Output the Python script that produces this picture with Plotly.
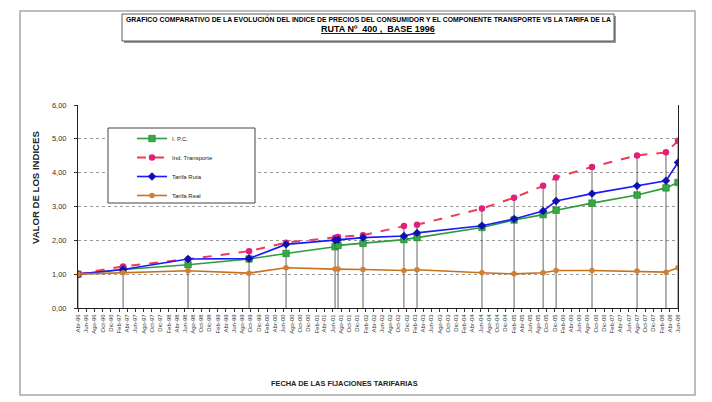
import plotly.graph_objects as go

# ---------------- data ----------------
FECHAS = ["1996-04-01", "1997-03-01", "1998-06-25", "1999-09-20", "2000-06-20",
          "2001-06-18", "2001-07-10", "2002-01-11", "2002-11-10", "2003-02-15",
          "2004-06-10", "2005-02-03", "2005-09-06", "2005-12-11", "2006-09-03",
          "2007-08-03", "2008-03-04", "2008-06-01"]
IPC = [1.00, 1.14, 1.28, 1.45, 1.61, 1.81, 1.85, 1.91, 2.02, 2.08,
       2.38, 2.60, 2.76, 2.89, 3.10, 3.34, 3.55, 3.71]
TRANSPORTE = [1.00, 1.23, 1.44, 1.68, 1.93, 2.08, 2.10, 2.15, 2.42, 2.46,
              2.94, 3.26, 3.61, 3.86, 4.17, 4.51, 4.60, 4.94]
TARIFA_RUTA = [1.00, 1.14, 1.45, 1.46, 1.88, 2.00, 2.02, 2.08, 2.13, 2.22,
               2.43, 2.63, 2.87, 3.16, 3.38, 3.61, 3.76, 4.30]
TARIFA_REAL = [1.00, 1.04, 1.10, 1.03, 1.19, 1.15, 1.15, 1.14, 1.11, 1.13,
               1.04, 1.01, 1.04, 1.11, 1.11, 1.09, 1.06, 1.19]

MESES = ["Ene", "Feb", "Mar", "Abr", "May", "Jun", "Jul", "Ago", "Sep", "Oct", "Nov", "Dic"]
Y_TICKS = [0, 1, 2, 3, 4, 5, 6]

# bimonthly tick labels Abr-96 .. Jun-08
TICK_VALS, TICK_TEXT = [], []
y, m = 1996, 4
while (y, m) <= (2008, 6):
    TICK_VALS.append(f"{y:04d}-{m:02d}-01")
    TICK_TEXT.append(f"{MESES[m-1]}-{y % 100:02d}")
    m += 2
    if m > 12:
        m -= 12
        y += 1

# ---------------- layout helpers ----------------
W, H = 712, 402
L, R, T, B = 78, 678, 105, 308


def px(x):
    return (x - L) / (R - L)


def py(yv):
    return (B - yv) / (B - T)


FONT = "Liberation Sans, Arial, sans-serif"

fig = go.Figure()

# drop lines from highest point to axis
drop_x, drop_y = [], []
for i, d in enumerate(FECHAS):
    top = max(IPC[i], TRANSPORTE[i], TARIFA_RUTA[i], TARIFA_REAL[i])
    drop_x += [d, d, None]
    drop_y += [0, top, None]
fig.add_trace(go.Scatter(x=drop_x, y=drop_y, mode="lines",
                         line=dict(color="#555555", width=0.9),
                         showlegend=False, hoverinfo="skip"))

fig.add_trace(go.Scatter(x=FECHAS, y=IPC, name="I. P.C.", legendgroup="a",
                         mode="lines+markers",
                         line=dict(color="#2e9b3c", width=1.6),
                         marker=dict(symbol="square", size=6.5, color="#33aa44",
                                     line=dict(color="#1f7a2c", width=0.6))))
fig.add_trace(go.Scatter(x=FECHAS, y=TRANSPORTE, name="Ind. Transporte", legendgroup="b",
                         mode="lines+markers",
                         line=dict(color="#f23a55", width=2, dash="dash"),
                         marker=dict(symbol="circle", size=6.5, color="#e0207a")))
fig.add_trace(go.Scatter(x=FECHAS, y=TARIFA_RUTA, name="Tarifa Ruta", legendgroup="c",
                         mode="lines+markers",
                         line=dict(color="#1a1aff", width=1.6),
                         marker=dict(symbol="diamond", size=6.5, color="#1010b0")))
fig.add_trace(go.Scatter(x=FECHAS, y=TARIFA_REAL, name="Tarifa Real", legendgroup="d",
                         mode="lines+markers",
                         line=dict(color="#c8701e", width=1.6),
                         marker=dict(symbol="circle", size=5.5, color="#d08030")))

shapes = [
    # outer chart border
    dict(type="rect", xref="paper", yref="paper", x0=px(20), x1=px(695), y0=py(395), y1=py(11),
         line=dict(color="#a8a8a8", width=1.5), layer="below"),
    # title box shadow + box
    dict(type="rect", xref="paper", yref="paper", x0=px(124), x1=px(616), y0=py(43), y1=py(16),
         line=dict(width=0), fillcolor="#9a9a9a", layer="below"),
    dict(type="rect", xref="paper", yref="paper", x0=px(122), x1=px(614), y0=py(41), y1=py(14),
         line=dict(color="#333333", width=0.8), fillcolor="white", layer="below"),
    # legend box
    dict(type="rect", xref="paper", yref="paper", x0=px(108), x1=px(255), y0=py(203), y1=py(128),
         line=dict(color="#444444", width=1), fillcolor="white", layer="above"),
]

annotations = [
    dict(text="GRAFICO COMPARATIVO DE LA EVOLUCIÓN DEL INDICE DE PRECIOS DEL CONSUMIDOR Y EL COMPONENTE TRANSPORTE VS LA TARIFA DE LA",
         x=px(368), y=py(19), xref="paper", yref="paper", showarrow=False,
         xanchor="center", yanchor="middle",
         font=dict(family=FONT, size=6.85, color="black", weight="bold")),
    dict(text="<u>RUTA Nº  400 ,  BASE 1996</u>",
         x=px(378), y=py(29), xref="paper", yref="paper", showarrow=False,
         xanchor="center", yanchor="middle",
         font=dict(family=FONT, size=9, color="black", weight="bold")),
    dict(text="VALOR DE LOS INDICES", textangle=-90,
         x=px(35), y=py(188), xref="paper", yref="paper", showarrow=False,
         xanchor="center", yanchor="middle",
         font=dict(family=FONT, size=9.6, color="#222222", weight="bold")),
    dict(text="FECHA DE LAS FIJACIONES TARIFARIAS",
         x=px(344), y=py(383), xref="paper", yref="paper", showarrow=False,
         xanchor="center", yanchor="middle",
         font=dict(family=FONT, size=7.4, color="#222222", weight="bold")),
]

fig.update_layout(
    width=W, height=H,
    margin=dict(l=L, r=W - R, t=T, b=H - B, pad=0),
    paper_bgcolor="white", plot_bgcolor="white",
    font=dict(family=FONT, color="#333333"),
    separators=",.",
    shapes=shapes, annotations=annotations,
    showlegend=True,
    legend=dict(x=px(132), y=py(124), xanchor="left", yanchor="top",
                bgcolor="rgba(0,0,0,0)", borderwidth=0,
                font=dict(family=FONT, size=6, color="#222222"),
                tracegroupgap=0, itemwidth=30),
    xaxis=dict(type="date", range=[TICK_VALS[0], TICK_VALS[-1]],
               tickmode="array", tickvals=TICK_VALS, ticktext=TICK_TEXT,
               tickangle=-90, tickfont=dict(family=FONT, size=6, color="#333333"),
               ticks="outside", ticklen=3, tickcolor="#333333",
               showline=True, linecolor="#222222", linewidth=1,
               showgrid=False, zeroline=False),
    yaxis=dict(range=[0, 6], tickmode="array", tickvals=Y_TICKS, tickformat=".2f",
               tickfont=dict(family=FONT, size=7.5, color="#333333"),
               ticks="outside", ticklen=3, tickcolor="#333333",
               showline=True, linecolor="#222222", linewidth=1, mirror=True,
               showgrid=True, gridcolor="#9a9a9a", griddash="dot", gridwidth=1,
               zeroline=False, ticklabelstandoff=6),
)

fig.write_html("out.html", config={"displayModeBar": False},
               post_script="document.body.style.margin='0';")
